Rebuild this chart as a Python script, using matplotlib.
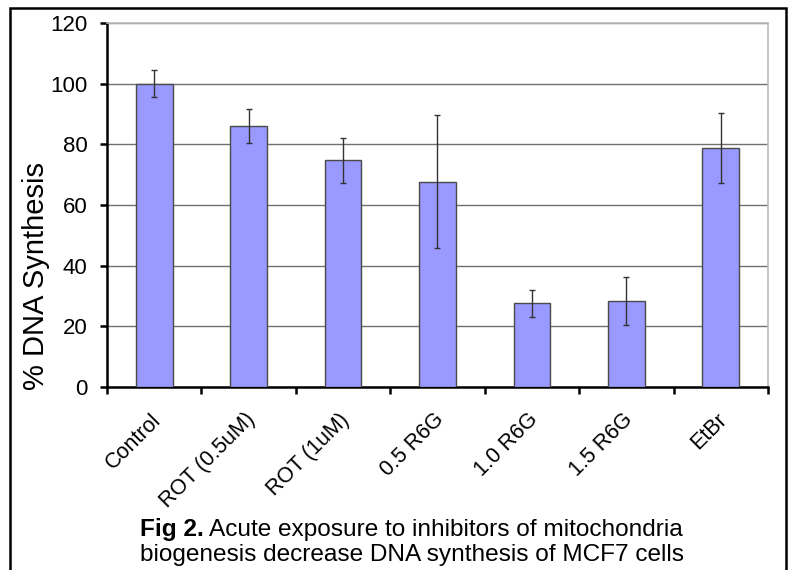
import numpy as np
import matplotlib.pyplot as plt
import matplotlib.transforms as mtransforms
from matplotlib.patches import Rectangle

categories = ['Control', 'ROT (0.5uM)', 'ROT (1uM)', '0.5 R6G', '1.0 R6G', '1.5 R6G', 'EtBr']
values = [100, 86, 74.7, 67.7, 27.6, 28.4, 78.7]
errors = [4.4, 5.6, 7.3, 22, 4.5, 7.8, 11.5]

plt.rcParams['font.family'] = ['Liberation Sans', 'DejaVu Sans']

fig = plt.figure(figsize=(7.93, 5.70), dpi=100)
ax = fig.add_axes([107 / 793, 1 - 387 / 570, (768 - 107) / 793, (387 - 23) / 570])

x = np.arange(len(categories))
ax.bar(x, values, width=0.39, color='#9999FF', edgecolor='#4a4a4a', linewidth=1.0, zorder=3)
ax.errorbar(x, values, yerr=errors, fmt='none', ecolor='#333333', elinewidth=1.0,
            capsize=2.5, capthick=1.0, zorder=4)

ax.set_xlim(-0.5, len(categories) - 0.5)
ax.set_ylim(0, 120)
ax.set_yticks(np.arange(0, 121, 20))
ax.yaxis.grid(True, color='#707070', linewidth=1.0, zorder=0)
ax.tick_params(axis='y', labelsize=16, length=5, width=1.8, direction='out', pad=9)

ax.set_xticks(x)
ax.set_xticklabels(categories, rotation=45, ha='right', rotation_mode='anchor', fontsize=15.5)
ax.tick_params(axis='x', which='major', length=0, pad=16)
shift = mtransforms.ScaledTranslation(-4 / 100, 0, fig.dpi_scale_trans)
for lab in ax.get_xticklabels():
    lab.set_transform(lab.get_transform() + shift)
ax.set_xticks(np.arange(-0.5, len(categories), 1), minor=True)
ax.tick_params(axis='x', which='minor', length=5, width=1.8, direction='out')

for side in ['left', 'bottom']:
    ax.spines[side].set_linewidth(1.8)
    ax.spines[side].set_color('black')
for side in ['top', 'right']:
    ax.spines[side].set_linewidth(1.2)
    ax.spines[side].set_color('#BBBBBB')

ax.set_ylabel('% DNA Synthesis', fontsize=21)
ax.yaxis.set_label_coords(-0.086, 0.305)

# figure frame
fig.patches.append(Rectangle((10 / 793, -0.05), (786 - 10) / 793, 1.05 - 8 / 570,
                             transform=fig.transFigure, fill=False,
                             edgecolor='black', linewidth=1.8))

# caption: bold "Fig 2." followed by normal text
cap_size = 17.6
t1 = fig.text(140 / 793, 1 - 536 / 570, 'Fig 2.', fontsize=cap_size, fontweight='bold',
              va='baseline', ha='left')
fig.canvas.draw()
bb = t1.get_window_extent()
fig.text(bb.x1 / fig.bbox.width + 5 / 793, 1 - 536 / 570,
         'Acute exposure to inhibitors of mitochondria',
         fontsize=cap_size, va='baseline', ha='left')
fig.text(140 / 793, 1 - 561 / 570, 'biogenesis decrease DNA synthesis of MCF7 cells',
         fontsize=cap_size, va='baseline', ha='left')

fig.savefig('out.png', dpi=100)
